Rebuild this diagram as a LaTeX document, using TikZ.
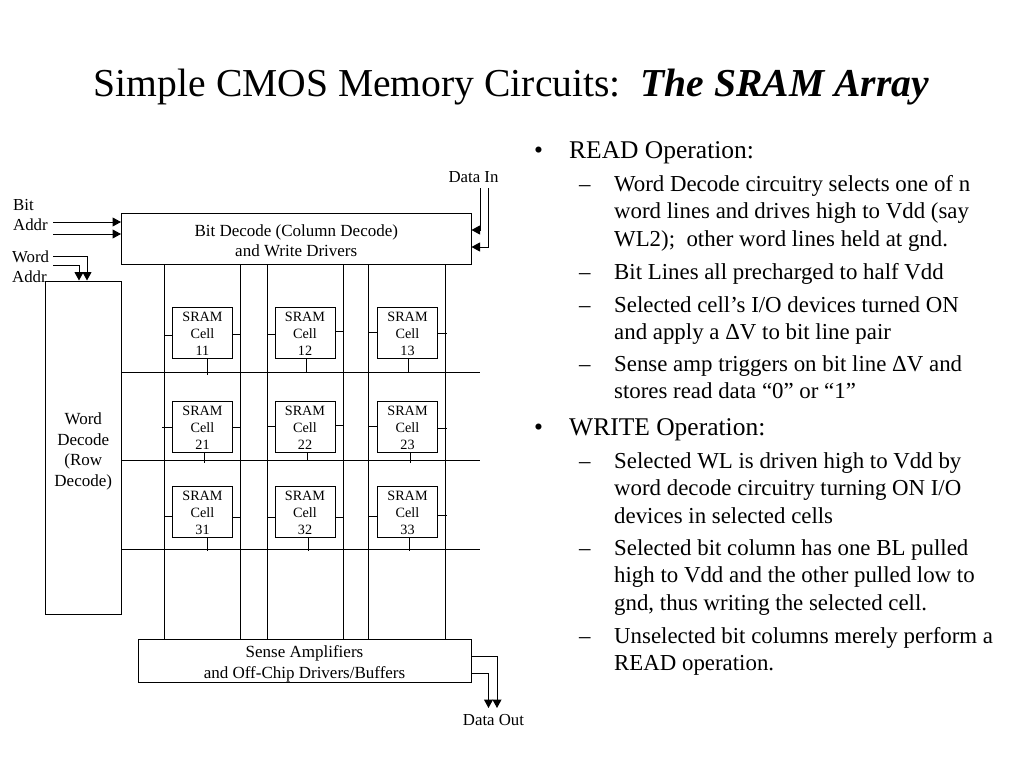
\documentclass[tikz,border=0pt]{standalone}
\usepackage{fontspec}
\setmainfont{Liberation Serif}
\usetikzlibrary{arrows.meta}

\newcommand{\lead}[1]{\rule{0pt}{#1}}

\tikzset{
  block/.style={draw, line width=1pt, inner sep=0pt, align=center, font=\fontsize{17}{20.5}\selectfont},
  cell/.style={draw, line width=1pt, inner sep=0pt, align=center, minimum width=60pt, minimum height=51pt,
    font=\fontsize{14.2}{17}\selectfont},
  tag/.style={inner sep=0pt, align=left, font=\fontsize{16.8}{20}\selectfont},
  head/.style={inner sep=0pt, anchor=base west, align=left, font=\fontsize{25.5}{27}\selectfont},
  sub/.style={inner sep=0pt, anchor=north west, align=left, font=\fontsize{22.85}{27.4}\selectfont},
  wire/.style={line width=1pt},
  feed/.style={line width=1pt, -{Triangle[length=8.5pt, width=9pt]}},
}

\begin{document}
\begin{tikzpicture}[x=1pt, y=-1pt]
  \useasboundingbox (0,0) rectangle (1024,768);

  % --- title ---
  \node[inner sep=0pt, font=\fontsize{39.6}{44}\selectfont] (title) at (511.5,87)
    {Simple CMOS Memory Circuits:\ \ \textbf{\textit{The SRAM Array}}};

  % --- blocks ---
  \node[block, minimum width=349.5pt, minimum height=51pt] (bitdec) at (296.25,238.5)
    {\lead{16pt}Bit Decode (Column Decode)\\and Write Drivers};
  \node[block, minimum width=76.5pt, minimum height=333pt] (worddec) at (83.25,447.5)
    {\lead{20pt}Word\\Decode\\(Row\\Decode)};
  \node[block, minimum width=333pt, minimum height=42pt] (sense) at (304.5,661)
    {\lead{18pt}Sense Amplifiers\\and Off-Chip Drivers/Buffers};

  % --- cells ---
  \foreach \r/\y in {1/332.5, 2/426.5, 3/511.5} {
    \foreach \c/\x in {1/202.5, 2/305, 3/407.5} {
      \node[cell] (c\r\c) at (\x,\y) {\lead{12pt}SRAM\\Cell\\\r\c};
    }
  }

  % --- bit lines ---
  \foreach \x in {164,240,267,343.5,368,445} {
    \draw[wire] (\x,0 |- bitdec.south) -- (\x,0 |- sense.north);
  }

  % --- word lines ---
  \foreach \n/\y in {1/372, 2/460.5, 3/549} {
    \coordinate (wl\n) at (480,\y);
    \draw[wire] (worddec.east |- wl\n) -- (wl\n);
  }

  % --- cell stubs ---
  \foreach \n/\ly/\lx/\ry/\rx in {
      11/335/164/334/241, 12/334.5/267/331.5/343.5, 13/332.5/368/333.5/447,
      21/427.5/162/427/241, 22/426/267/425/343.5, 23/426/368/428/447,
      31/516.5/164/517.5/240, 32/517/267/517/343.5, 33/516/368/515.5/447} {
    \draw[wire] (c\n.west |- 0,\ly) -- (\lx,\ly);
    \draw[wire] (c\n.east |- 0,\ry) -- (\rx,\ry);
  }
  \foreach \n/\bx/\by in {11/207/375, 12/306.5/373, 13/408/373,
                          21/204.5/463, 22/307/461, 23/410/463,
                          31/207/551, 32/308/551, 33/409/551} {
    \draw[wire] (\bx,0 |- c\n.south) -- (\bx,\by);
  }

  % --- address inputs ---
  \node[tag, anchor=north west] (bitaddr) at (13,196) {\lead{14pt}Bit\\Addr};
  \node[tag, anchor=north west] (wordaddr) at (12,248) {\lead{14pt}Word\\Addr};
  \coordinate (ba1) at (53,222);
  \coordinate (ba2) at (53,234);
  \coordinate (wa1) at (53,256);
  \coordinate (wa2) at (53,265);
  \draw[feed] (ba1) -- (bitdec.west |- ba1);
  \draw[feed] (ba2) -- (bitdec.west |- ba2);
  \draw[feed] (wa1) -| (87,0 |- worddec.north);
  \draw[feed] (wa2) -| (79,0 |- worddec.north);

  % --- data in ---
  \node[tag] (datain) at (473.5,177) {Data In};
  \coordinate (di1) at (480,188);
  \coordinate (di2) at (488.5,188);
  \draw[feed] (di1) |- (bitdec.east |- 0,230);
  \draw[feed] (di2) |- (bitdec.east |- 0,247);

  % --- data out ---
  \node[tag] (dataout) at (493.5,720) {Data Out};
  \coordinate (do1) at (497,708);
  \coordinate (do2) at (488.5,708);
  \draw[feed] (sense.east |- 0,656.5) -| (do1);
  \draw[feed] (sense.east |- 0,673) -| (do2);

  % --- READ text ---
  \node[head] (b1) at (534,158) {•};
  \node[head] (read) at (569,158) {READ Operation:};
  \node[sub] (d1) at (579,171) {\lead{20pt}–};
  \node[sub] (r1) at (614,171) {\lead{20pt}Word Decode circuitry selects one of n\\word lines and drives high to Vdd (say\\WL2);\ \ other word lines held at gnd.};
  \node[sub] (d2) at (579,259) {\lead{20pt}–};
  \node[sub] (r2) at (614,259) {\lead{20pt}Bit Lines all precharged to half Vdd};
  \node[sub] (d3) at (579,292) {\lead{20pt}–};
  \node[sub] (r3) at (614,292) {\lead{20pt}Selected cell’s I/O devices turned ON\\and apply a ΔV to bit line pair};
  \node[sub] (d4) at (579,351) {\lead{20pt}–};
  \node[sub] (r4) at (614,351) {\lead{20pt}Sense amp triggers on bit line ΔV and\\stores read data “0” or “1”};

  % --- WRITE text ---
  \node[head] (b2) at (534,435) {•};
  \node[head] (write) at (569,435) {WRITE Operation:};
  \node[sub] (d5) at (579,448) {\lead{20pt}–};
  \node[sub] (w1) at (614,448) {\lead{20pt}Selected WL is driven high to Vdd by\\word decode circuitry turning ON I/O\\devices in selected cells};
  \node[sub] (d6) at (579,535) {\lead{20pt}–};
  \node[sub] (w2) at (614,535) {\lead{20pt}Selected bit column has one BL pulled\\high to Vdd and the other pulled low to\\gnd, thus writing the selected cell.};
  \node[sub] (d7) at (579,623) {\lead{20pt}–};
  \node[sub] (w3) at (614,623) {\lead{20pt}Unselected bit columns merely perform a\\READ operation.};
\end{tikzpicture}
\end{document}
